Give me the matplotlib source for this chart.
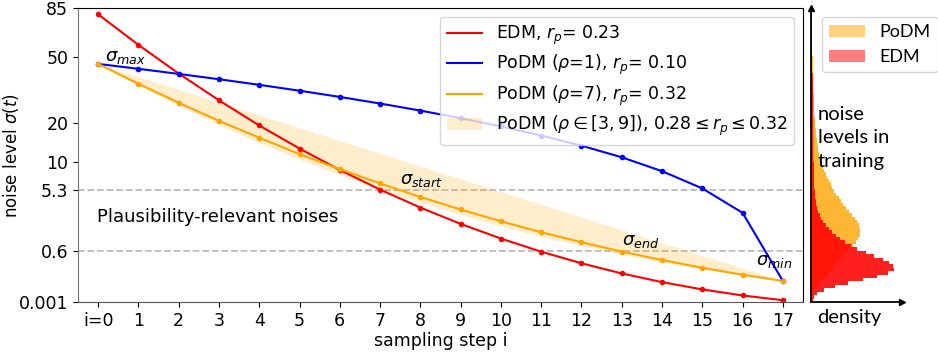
import numpy as np
import matplotlib
matplotlib.use("Agg")
import matplotlib.pyplot as plt
from matplotlib.patches import Patch

# sampling steps
steps = np.arange(18)
step_labels = ["i=0"] + [str(i) for i in range(1, 18)]

# noise levels per step
edm = [80.0, 57.6, 40.8, 28.4, 19.3, 12.9, 8.39, 5.31, 3.25, 1.92,
       1.087, 0.585, 0.296, 0.139, 0.0598, 0.0229, 0.0075, 0.002]
podm_rho1 = [46.0, 43.3, 40.6, 37.9, 35.2, 32.5, 29.8, 27.1, 24.4, 21.7,
             19.0, 16.3, 13.6, 10.9, 8.17, 5.47, 2.77, 0.068]
podm_rho7 = [46.0, 35.7, 27.4, 20.8, 15.7, 11.6, 8.54, 6.17, 4.39, 3.07,
             2.10, 1.41, 0.924, 0.589, 0.364, 0.217, 0.124, 0.068]
podm_rho3 = [46.0, 39.2, 33.1, 27.6, 22.8, 18.6, 14.9, 11.8, 9.11, 6.88,
             5.04, 3.57, 2.41, 1.54, 0.906, 0.476, 0.210, 0.068]
podm_rho9 = [46.0, 34.8, 26.2, 19.5, 14.35, 10.45, 7.54, 5.37, 3.77, 2.61,
             1.78, 1.19, 0.783, 0.505, 0.318, 0.195, 0.117, 0.068]

yticks = [0.001, 0.6, 5.3, 10, 20, 50, 85]
ytick_labels = ["0.001", "0.6", "5.3", "10", "20", "50", "85"]
sigma_start = 5.3
sigma_end = 0.6

# training noise histograms, bins of 0.05 in cube-root space, bottom to top
cbrt_edges = np.arange(0.1, 4.42, 0.05)
hist_edm = [1.5, 3, 6, 13, 24, 37, 52, 66, 77, 83,
            82, 78, 72, 63, 55, 46, 40, 34, 29, 25,
            21, 18, 15, 12, 10, 8.5, 7, 6, 5, 4.5,
            4, 3.5, 3.5, 3.2, 3, 3, 2.8, 2.8, 2.6, 2.5,
            2.5, 2.4, 2.3, 2.3, 2.2, 2.2, 2.1, 2, 2, 2,
            1.9, 1.9, 1.8, 1.8, 1.8, 1.7, 1.7, 1.7, 1.6, 1.6,
            1.6, 1.6, 1.5, 1.5, 1.5, 1.5, 1.5, 1.4, 1.4, 1.4,
            1.4, 1.4, 1.3, 1.3, 1.3, 1.3, 1.3, 1.3, 1.2, 1.2,
            1.2, 1.2, 1.2, 1.2, 1.2, 1.2]
hist_podm = [0, 0.5, 1, 2.5, 5.5, 8.5, 11.5, 14.5, 17, 20,
             23, 26, 29, 32, 35, 38, 42, 45, 47, 48.5,
             49, 49, 48, 46, 44, 41, 38, 35, 32, 30,
             27.5, 25, 23, 21, 19.5, 17.5, 16, 14.5, 13, 12,
             10.5, 9, 8, 7.5, 7, 6.5, 6, 5.5, 5, 4.8,
             4.5, 4.2, 4, 3.7, 3.4, 3.2, 3, 2.8, 2.7, 2.6,
             2.5, 2.4, 2.3, 2.2, 2.1, 2, 1.9, 1.8, 1.7, 1.6,
             1.5, 1.5, 1.4, 1.4, 1.3, 1.3, 1.2, 1.2, 1.1, 1.1,
             1, 1, 1, 0.9, 0.9, 0.8]

fig = plt.figure(figsize=(9.38, 3.55), dpi=100)
ax = fig.add_axes([78 / 938, 1 - 302 / 355, (803 - 78) / 938, (302 - 8.3) / 355])

ax.set_yscale("function", functions=(np.cbrt, lambda v: v ** 3))

ax.fill_between(steps, podm_rho9, podm_rho3, color="orange", alpha=0.2, lw=0,
                label=r"PoDM ($\rho\in[3,9]$), $0.28\leq r_p\leq 0.32$")
ax.plot(steps, edm, color="red", lw=1.5, label=r"EDM, $r_p$= 0.23")
ax.plot(steps, podm_rho1, color="blue", lw=1.5, label=r"PoDM ($\rho$=1), $r_p$= 0.10")
ax.plot(steps, podm_rho7, color="orange", lw=1.5, label=r"PoDM ($\rho$=7), $r_p$= 0.32")
for vals, c in [(edm, "red"), (podm_rho1, "blue"), (podm_rho7, "orange")]:
    ax.plot(steps, vals, ls="none", marker="o", ms=3, color=c)

ax.axhline(sigma_start, color="#bbbbbb", ls="--", lw=1.3, zorder=0)
ax.axhline(sigma_end, color="#bbbbbb", ls="--", lw=1.3, zorder=0)

ax.text(0.17, 50, r"$\sigma_{max}$", fontsize=13, ha="left", va="center")
ax.text(7.49, 6.7, r"$\sigma_{start}$", fontsize=13, ha="left", va="center")
ax.text(13.0, 0.97, r"$\sigma_{end}$", fontsize=13, ha="left", va="center")
ax.text(16.33, 0.34, r"$\sigma_{min}$", fontsize=13, ha="left", va="center")
ax.text(-0.02, 2.45, "Plausibility-relevant noises", fontsize=13, ha="left", va="center")

ax.set_xlim(-0.5, 17.5)
ax.set_ylim(0.001, 85)
ax.set_xticks(steps)
ax.set_xticklabels(step_labels)
ax.set_yticks(yticks)
ax.set_yticklabels(ytick_labels)
ax.minorticks_off()
ax.tick_params(labelsize=12.5)
ax.set_xlabel("sampling step i", fontsize=12.5, labelpad=2)
ax.set_ylabel(r"noise level $\sigma(t)$", fontsize=12)
ax.yaxis.set_label_coords(-0.079, 0.5)
ax.spines["left"].set_color("#777777")
ax.spines["bottom"].set_color("#555555")

handles, labels = ax.get_legend_handles_labels()
order = [1, 2, 3, 0]
ax.legend([handles[k] for k in order], [labels[k] for k in order],
          loc="upper right", fontsize=12.5, handlelength=2, labelspacing=0.35)

# training noise histogram panel
ax2 = fig.add_axes([811 / 938, 1 - 302 / 355, (902 - 811) / 938, (302 - 8.3) / 355],
                   sharey=ax)
edges = cbrt_edges ** 3
ax2.stairs(hist_podm, edges, orientation="horizontal", fill=True,
           color="orange", alpha=0.8, lw=0)
ax2.stairs(hist_edm, edges, orientation="horizontal", fill=True,
           color="red", alpha=0.88, lw=0)
ax2.set_xlim(0, 91)
ax2.set_ylim(0.001, 85)
ax2.spines["top"].set_visible(False)
ax2.spines["right"].set_visible(False)
ax2.spines["left"].set_linewidth(1.3)
ax2.spines["bottom"].set_linewidth(1.3)
ax2.tick_params(left=False, labelleft=False, bottom=False, labelbottom=False)
ax2.plot(0, 1, "^k", ms=5, transform=ax2.transAxes, clip_on=False)
ax2.plot(1, 0, ">k", ms=5, transform=ax2.transAxes, clip_on=False)

ax2.legend([Patch(color="orange", alpha=0.5, lw=0), Patch(color="red", alpha=0.5, lw=0)],
           ["PoDM", "EDM"], prop={"family": "Lato", "size": 13},
           loc="upper left", bbox_to_anchor=(822 / 938, 1 - 17 / 355),
           bbox_transform=fig.transFigure, borderaxespad=0)

fig.text(818 / 938, 1 - 106 / 355, "noise\nlevels in\ntraining", family="Lato",
         fontsize=14.5, ha="left", va="top", linespacing=1.45)
fig.text(817 / 938, 1 - 309 / 355, "density", family="Lato", fontsize=14.5,
         ha="left", va="top")

fig.savefig("out.png", dpi=100)
